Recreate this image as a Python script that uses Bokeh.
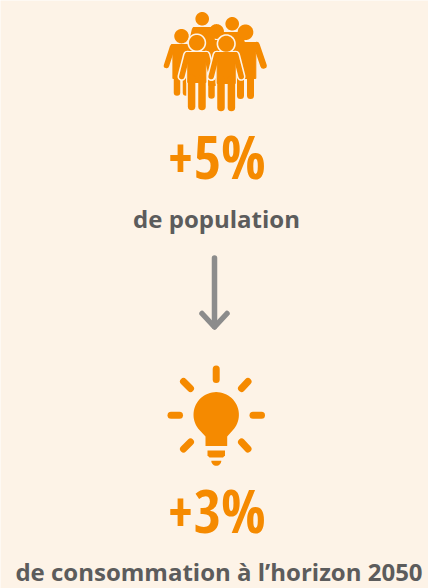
import math
from bokeh.plotting import figure
from bokeh.core.properties import value
from bokeh.embed import file_html
from bokeh.resources import INLINE

headline_values = ["+5%", "+3%"]
captions = ["de population", "de consommation à l’horizon 2050"]

BG = "#fdf3e7"
ORANGE = "#f58a00"
TEXT = "#5c5c5c"
GREY = "#8c8c8c"

p = figure(width=428, height=588, x_range=(0, 428), y_range=(588, 0),
           output_backend="svg", toolbar_location=None, min_border=0,
           background_fill_color=BG, border_fill_color=BG, outline_line_color=None)
p.axis.visible = False
p.grid.visible = False


def circle_pts(cx, cy, r, a0=0.0, a1=360.0, n=48):
    return ([cx + r * math.cos(math.radians(a0 + (a1 - a0) * i / n)) for i in range(n + 1)],
            [cy + r * math.sin(math.radians(a0 + (a1 - a0) * i / n)) for i in range(n + 1)])


def person(hx, hy, r, sh, top, hip, foot, arm_dx, arm_y, leg_dx, arm_w, leg_w, outline=0.0):
    """Pictogram: head, torso, two arms, two legs, optionally ringed in background colour."""
    torso_x = [hx - sh, hx + sh, hx + sh * 0.86, hx + sh * 0.86, hx - sh * 0.86, hx - sh * 0.86]
    torso_y = [top, top, top + 10, hip, hip, top + 10]
    arms_x = [[hx - sh + 1, hx - arm_dx], [hx + sh - 1, hx + arm_dx]]
    arms_y = [[top + 2.5, arm_y], [top + 2.5, arm_y]]
    legs_x = [[hx - leg_dx, hx - leg_dx], [hx + leg_dx, hx + leg_dx]]
    legs_y = [[hip - 4, foot], [hip - 4, foot]]
    hcx, hcy = circle_pts(hx, hy, r)
    if outline:
        p.patch(torso_x, torso_y, fill_color=BG, line_color=BG, line_width=outline * 2)
        p.multi_line(arms_x, arms_y, line_color=BG, line_width=arm_w + outline * 2, line_cap="round")
        p.multi_line(legs_x, legs_y, line_color=BG, line_width=leg_w + outline * 2, line_cap="round")
        p.patch(hcx, hcy, fill_color=BG, line_color=BG, line_width=outline * 2)
    p.patch(torso_x, torso_y, fill_color=ORANGE, line_color=ORANGE, line_width=1, line_join="round")
    p.multi_line(arms_x, arms_y, line_color=ORANGE, line_width=arm_w, line_cap="round")
    p.multi_line(legs_x, legs_y, line_color=ORANGE, line_width=leg_w, line_cap="round")
    p.patch(hcx, hcy, fill_color=ORANGE, line_color=None)


# Crowd icon, back row then front row
person(201.7, 18.3, 6.8, 9, 27, 60, 66, 13, 52, 4, 5, 6)
person(231.7, 23.3, 6.8, 9, 32, 60, 66, 13, 52, 4, 5, 6)
person(216.0, 31.0, 7.4, 9, 40, 85, 95, 13, 62, 5, 5, 6.5)
person(181.0, 35.7, 7.2, 10, 44, 78, 92, 15, 65, 4.5, 5.5, 6.5)
person(245.0, 31.7, 7.8, 12, 42, 78, 95, 18, 65, 5, 6.5, 7)
person(196.3, 42.3, 7.8, 10.5, 52, 82, 106, 15, 76, 5.2, 5.5, 7.5, outline=1.6)
person(225.7, 43.3, 8.0, 10.5, 52, 83, 107, 15, 76, 5.2, 5.5, 7.5, outline=1.6)

# Arrow
p.line([214, 214], [257.5, 326], line_color=GREY, line_width=5.5, line_cap="round")
p.line([201.5, 214, 226.5], [313, 326.5, 313], line_color=GREY, line_width=5.5,
       line_cap="round", line_join="round")

# Bulb rays
ray_x = [[215.7, 215.7], [170.5, 179], [252.5, 261],
         [183, 190], [247.5, 241], [190, 183], [241, 247.5]]
ray_y = [[368.5, 379], [414.7, 414.7], [414.7, 414.7], [381, 388], [381, 388], [441.5, 448.5], [441.5, 448.5]]
p.multi_line(ray_x, ray_y, line_color=ORANGE, line_width=7, line_cap="round")

# Bulb
bx, by = circle_pts(215.7, 414.3, 22.7, 142, 398)
bulb_x = bx + [226.7, 226.7, 205, 205, bx[0]]
bulb_y = by + [436, 445.5, 445.5, 436, by[0]]
p.patch(bulb_x, bulb_y, fill_color=ORANGE, line_color=None)
p.patch([207, 224.5, 224.5, 222.5, 209, 207], [450, 450, 455, 457, 457, 455], fill_color=ORANGE, line_color=None)
mx, my = circle_pts(215.8, 460.3, 5, 0, 180, 16)
p.patch(mx, my, fill_color=ORANGE, line_color=None)

# Texts
p.text([216, 216], [155, 509], text=headline_values, text_color=ORANGE,
       text_font=value("Open Sans Condensed"), text_font_style="bold", text_font_size="59px",
       text_align="center", text_baseline="middle")
p.text([216, 218.5], [217.5, 571], text=captions, text_color=TEXT,
       text_font=value("Open Sans"), text_font_style="bold", text_font_size="24px",
       text_align="center", text_baseline="middle")

html = file_html(p, INLINE)
html = html.replace("<body>", f'<body style="margin:0;background:{BG}">', 1)
open("out.html", "w").write(html)
